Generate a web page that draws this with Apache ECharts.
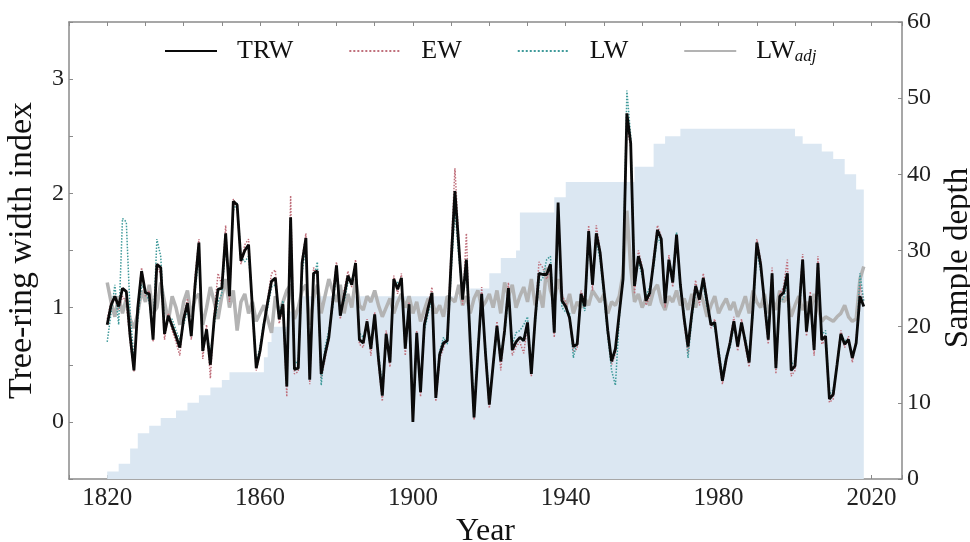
<!DOCTYPE html>
<html>
<head>
<meta charset="utf-8">
<script src="https://cdn.jsdelivr.net/npm/echarts@6/dist/echarts.min.js"></script>
<style>
  html, body { margin: 0; padding: 0; background: #fff; }
  #chart { width: 970px; height: 542px; }
</style>
</head>
<body>
<div id="chart"></div>
<script>
// chronologies, one value per year starting at firstYear
const firstYear = 1820

const trw = [
  0.85, 1.02, 1.10, 1.01, 1.17, 1.14, 0.75, 0.45, 1.00, 1.32,
  1.13, 1.12, 0.72, 1.38, 1.35, 0.77, 0.93, 0.84, 0.75, 0.65,
  0.90, 1.04, 0.75, 1.20, 1.57, 0.62, 0.81, 0.50, 0.90, 1.16,
  1.17, 1.65, 1.10, 1.93, 1.90, 1.41, 1.50, 1.55, 1.00, 0.47,
  0.62, 0.85, 1.05, 1.23, 1.26, 0.90, 1.03, 0.31, 1.79, 0.46,
  0.47, 1.39, 1.61, 0.37, 1.30, 1.32, 0.42, 0.59, 0.74, 1.05,
  1.37, 0.93, 1.10, 1.28, 1.20, 1.39, 0.72, 0.69, 0.88, 0.64,
  0.94, 0.55, 0.23, 0.77, 0.52, 1.25, 1.16, 1.26, 0.64, 1.03,
  0.00, 0.78, 0.26, 0.85, 1.00, 1.13, 0.21, 0.59, 0.69, 0.71,
  1.40, 2.02, 1.55, 1.07, 1.42, 0.70, 0.04, 0.60, 1.12, 0.60,
  0.15, 0.50, 0.84, 0.53, 0.80, 1.17, 0.63, 0.70, 0.74, 0.71,
  0.87, 0.42, 0.90, 1.30, 1.29, 1.29, 1.38, 0.78, 1.92, 1.06,
  1.01, 0.91, 0.66, 0.68, 1.12, 1.01, 1.67, 1.20, 1.65, 1.48,
  1.15, 0.80, 0.53, 0.64, 0.95, 1.25, 2.70, 2.44, 1.19, 1.45,
  1.33, 1.06, 1.13, 1.40, 1.68, 1.60, 1.04, 1.42, 1.22, 1.64,
  1.20, 0.90, 0.66, 0.95, 1.19, 1.07, 1.26, 1.05, 0.85, 0.87,
  0.60, 0.36, 0.55, 0.69, 0.88, 0.66, 0.87, 0.70, 0.52, 1.00,
  1.57, 1.38, 1.05, 0.72, 1.30, 0.47, 1.10, 1.13, 1.30, 0.45,
  0.49, 0.95, 1.42, 0.79, 1.10, 0.63, 1.39, 0.72, 0.75, 0.20,
  0.24, 0.50, 0.77, 0.68, 0.72, 0.56, 0.69, 1.10, 1.01
]

const ew = [
  0.90, 1.05, 1.08, 0.98, 1.10, 1.05, 0.70, 0.44, 1.02, 1.35,
  1.10, 1.15, 0.70, 1.35, 1.30, 0.72, 0.95, 0.80, 0.70, 0.58,
  0.92, 1.08, 0.72, 1.28, 1.60, 0.55, 0.85, 0.38, 0.95, 1.30,
  1.20, 1.72, 1.05, 1.95, 1.88, 1.38, 1.55, 1.60, 0.95, 0.45,
  0.60, 0.85, 1.08, 1.30, 1.33, 0.86, 1.00, 0.22, 1.98, 0.42,
  0.44, 1.42, 1.65, 0.33, 1.35, 1.28, 0.38, 0.55, 0.72, 1.10,
  1.40, 0.90, 1.15, 1.32, 1.18, 1.42, 0.68, 0.65, 0.90, 0.58,
  0.96, 0.50, 0.18, 0.80, 0.48, 1.28, 1.12, 1.30, 0.58, 1.05,
  0.02, 0.80, 0.22, 0.88, 1.02, 1.18, 0.18, 0.55, 0.65, 0.75,
  1.50, 2.22, 1.60, 1.02, 1.65, 0.65, 0.02, 0.58, 1.18, 0.55,
  0.12, 0.52, 0.88, 0.45, 0.82, 1.22, 0.58, 0.66, 0.70, 0.60,
  0.85, 0.40, 0.92, 1.40, 1.35, 1.25, 1.32, 0.74, 1.90, 1.10,
  1.05, 0.88, 0.62, 0.64, 1.15, 1.05, 1.72, 1.15, 1.72, 1.50,
  1.18, 0.78, 0.50, 0.60, 0.98, 1.22, 2.60, 2.40, 1.12, 1.50,
  1.36, 1.02, 1.10, 1.45, 1.72, 1.62, 1.00, 1.46, 1.18, 1.60,
  1.22, 0.86, 0.60, 0.98, 1.24, 1.02, 1.30, 1.08, 0.82, 0.90,
  0.55, 0.33, 0.52, 0.72, 0.92, 0.62, 0.90, 0.66, 0.48, 1.05,
  1.60, 1.42, 1.00, 0.68, 1.35, 0.42, 1.12, 1.18, 1.42, 0.40,
  0.45, 0.98, 1.47, 0.75, 1.14, 0.58, 1.45, 0.68, 0.72, 0.17,
  0.20, 0.52, 0.80, 0.65, 0.75, 0.52, 0.72, 1.20, 1.05
]

const lw = [
  0.70, 0.95, 1.20, 0.85, 1.78, 1.75, 0.95, 0.55, 0.90, 1.20,
  1.15, 1.05, 0.78, 1.60, 1.45, 0.85, 0.88, 0.90, 0.80, 0.72,
  0.85, 0.98, 0.80, 1.15, 1.45, 0.70, 0.78, 0.60, 0.85, 1.05,
  1.12, 1.55, 1.18, 1.85, 1.92, 1.45, 1.40, 1.45, 1.05, 0.50,
  0.66, 0.88, 1.00, 1.18, 1.20, 0.95, 1.06, 0.40, 1.60, 0.52,
  0.52, 1.30, 1.55, 0.42, 1.25, 1.40, 0.32, 0.65, 0.80, 1.00,
  1.30, 0.98, 1.05, 1.22, 1.25, 1.32, 0.78, 0.74, 0.85, 0.70,
  0.90, 0.60, 0.30, 0.72, 0.58, 1.20, 1.22, 1.20, 0.70, 0.98,
  0.05, 0.72, 0.32, 0.80, 0.95, 1.08, 0.28, 0.62, 0.74, 0.68,
  1.30, 1.85, 1.45, 1.12, 1.30, 0.75, 0.10, 0.66, 1.05, 0.65,
  0.20, 0.48, 0.80, 0.60, 0.76, 1.10, 0.68, 0.78, 0.80, 0.85,
  0.92, 0.45, 0.86, 1.22, 1.26, 1.42, 1.45, 0.82, 1.85, 1.00,
  0.96, 0.95, 0.56, 0.72, 1.08, 0.97, 1.60, 1.25, 1.58, 1.42,
  1.10, 0.75, 0.45, 0.32, 0.90, 1.30, 2.90, 2.50, 1.25, 1.40,
  1.28, 1.10, 1.18, 1.35, 1.62, 1.55, 1.08, 1.38, 1.28, 1.66,
  1.15, 0.95, 0.56, 0.90, 1.14, 1.12, 1.20, 1.00, 0.88, 0.82,
  0.65, 0.40, 0.58, 0.65, 0.84, 0.70, 0.82, 0.74, 0.55, 0.95,
  1.50, 1.32, 1.10, 0.76, 1.25, 0.52, 1.05, 1.08, 1.22, 0.50,
  0.54, 0.90, 1.35, 0.84, 1.06, 0.68, 1.30, 0.76, 0.80, 0.24,
  0.28, 0.48, 0.74, 0.72, 0.70, 0.60, 0.66, 1.30, 1.05
]

const lwAdj = [
  1.22, 1.05, 0.92, 1.10, 0.95, 1.08, 0.90, 0.82, 0.95, 1.15,
  1.05, 1.20, 0.95, 1.00, 1.22, 1.05, 0.88, 1.10, 1.00, 0.85,
  1.05, 1.15, 0.92, 1.08, 1.12, 0.85, 1.00, 1.18, 1.05, 0.90,
  1.10, 1.25, 1.00, 1.15, 0.80, 1.05, 1.12, 0.95, 1.05, 0.88,
  0.95, 1.02, 0.90, 0.78, 1.10, 0.95, 1.05, 1.15, 1.20, 0.90,
  1.00, 1.15, 1.20, 0.85, 1.08, 1.20, 0.95, 1.10, 1.25, 1.15,
  1.05, 1.20, 0.95, 1.12, 1.00, 1.25, 1.02, 0.98, 1.10, 1.05,
  1.15, 1.02, 0.92, 1.00, 1.08, 0.95, 1.05, 1.12, 1.00, 1.10,
  0.95, 1.05, 0.88, 0.98, 1.08, 1.05, 0.95, 1.02, 0.92, 1.10,
  1.08, 1.05, 1.20, 1.02, 1.10, 0.95, 1.08, 1.15, 1.00, 1.05,
  1.12, 1.00, 1.15, 0.95, 1.22, 1.10, 1.20, 1.00, 1.10, 1.18,
  1.05, 1.25, 1.02, 1.15, 1.00, 1.35, 1.15, 1.05, 1.25, 1.10,
  1.00, 1.12, 0.95, 1.05, 1.00, 1.08, 1.02, 1.15, 1.10, 1.05,
  1.12, 0.95, 1.05, 1.02, 1.10, 1.30, 1.85, 1.35, 1.05, 1.12,
  1.00, 1.08, 1.02, 1.15, 1.20, 1.05, 0.98, 1.10, 1.05, 1.15,
  1.02, 1.08, 0.98, 1.12, 1.00, 1.15, 1.05, 0.92, 1.02, 1.10,
  0.95, 1.02, 1.08, 0.98, 1.05, 0.92, 1.00, 1.10, 0.95, 1.15,
  1.05, 1.00, 1.12, 0.95, 1.08, 0.98, 1.15, 1.05, 1.10, 0.92,
  1.02, 1.10, 0.98, 1.05, 0.95, 1.12, 1.00, 0.88, 0.92, 0.90,
  0.88, 0.92, 0.95, 1.02, 0.92, 0.88, 0.90, 1.25, 1.36
]

// number of trees per year
const sampleDepth = [
  1, 1, 1, 2, 2, 2, 4, 4, 6, 6,
  6, 7, 7, 7, 8, 8, 8, 8, 9, 9,
  9, 10, 10, 10, 11, 11, 11, 12, 12, 12,
  13, 13, 14, 14, 14, 14, 14, 14, 14, 14,
  14, 16, 18, 20, 20, 20, 20, 22, 22, 22,
  22, 24, 24, 24, 24, 24, 24, 24, 24, 24,
  24, 24, 24, 24, 24, 24, 24, 24, 24, 24,
  24, 24, 24, 24, 24, 24, 24, 24, 24, 24,
  24, 24, 24, 24, 24, 24, 24, 24, 24, 24,
  24, 24, 24, 24, 24, 25, 25, 25, 25, 25,
  27, 27, 27, 29, 29, 29, 29, 30, 35, 35,
  35, 35, 35, 35, 35, 35, 35, 37, 37, 37,
  39, 39, 39, 39, 39, 39, 39, 39, 39, 39,
  39, 39, 39, 39, 39, 39, 39, 39, 41, 41,
  41, 41, 41, 44, 44, 44, 45, 45, 45, 45,
  46, 46, 46, 46, 46, 46, 46, 46, 46, 46,
  46, 46, 46, 46, 46, 46, 46, 46, 46, 46,
  46, 46, 46, 46, 46, 46, 46, 46, 46, 46,
  45, 45, 44, 44, 44, 44, 44, 43, 43, 43,
  42, 42, 42, 40, 40, 40, 38, 38, 38
]

const xLabelYears = [1820, 1860, 1900, 1940, 1980, 2020]
const leftLabels = [0, 1, 2, 3]

const pairs = arr => arr.map((v, i) => [firstYear + i, v])

const serif = "'Liberation Serif', 'Times New Roman', serif"
const spine = '#8a8a8a'

const chart = echarts.init(document.getElementById('chart'))

const xBase = {
  type: 'value',
  min: 1810,
  max: 2028,
  interval: 10,
  splitLine: { show: false },
  axisLine: { onZero: false, lineStyle: { color: spine, width: 1.5 } },
  axisTick: { inside: true, length: 4, lineStyle: { color: spine } }
}

chart.setOption({
  backgroundColor: '#fff',
  animation: false,
  grid: { left: 69, right: 68, top: 22, bottom: 63, containLabel: false, outerBoundsMode: 'none' },
  legend: {
    top: 33,
    left: 159,
    itemWidth: 52,
    itemHeight: 14,
    itemGap: 55,
    itemStyle: { opacity: 0 },
    textStyle: {
      fontFamily: serif,
      fontSize: 26,
      color: '#111',
      padding: [0, 0, 0, 15],
      rich: {
        sub: { fontFamily: serif, fontSize: 17, fontStyle: 'italic', color: '#111', padding: [11, 0, 0, 0] }
      }
    },
    formatter: name => name === 'LWadj' ? 'LW{sub|adj}' : name,
    data: ['TRW', 'EW', 'LW', 'LWadj']
  },
  xAxis: [
    Object.assign({}, xBase, {
      position: 'bottom',
      name: 'Year',
      nameLocation: 'middle',
      nameGap: 26,
      nameTextStyle: { fontFamily: serif, fontSize: 32, color: '#111' },
      axisLabel: {
        fontFamily: serif,
        fontSize: 25,
        color: '#222',
        margin: 7,
        formatter: v => xLabelYears.includes(v) ? String(v) : ''
      }
    }),
    Object.assign({}, xBase, {
      position: 'top',
      axisLabel: { show: false }
    })
  ],
  yAxis: [
    {
      type: 'value',
      min: -0.5,
      max: 3.5,
      interval: 0.5,
      position: 'left',
      name: 'Tree-ring width index',
      nameLocation: 'middle',
      nameGap: 30,
      nameTextStyle: { fontFamily: serif, fontSize: 34, color: '#111' },
      splitLine: { show: false },
      axisLine: { show: true, onZero: false, lineStyle: { color: spine, width: 1.5 } },
      axisTick: { show: true, inside: true, length: 4, lineStyle: { color: spine } },
      axisLabel: {
        fontFamily: serif,
        fontSize: 24,
        color: '#222',
        margin: 5,
        formatter: v => leftLabels.includes(v) ? String(v) : ''
      }
    },
    {
      type: 'value',
      min: 0,
      max: 60,
      interval: 10,
      position: 'right',
      name: 'Sample depth',
      nameLocation: 'middle',
      nameGap: 29,
      nameRotate: 90,
      nameTextStyle: { fontFamily: serif, fontSize: 33, color: '#111', padding: [0, 15, 0, 0] },
      splitLine: { show: false },
      axisLine: { show: true, onZero: false, lineStyle: { color: spine, width: 1.5 } },
      axisTick: { show: true, inside: true, length: 4, lineStyle: { color: spine } },
      axisLabel: { fontFamily: serif, fontSize: 24, color: '#222', margin: 5 }
    }
  ],
  series: [
    {
      name: 'Sample depth',
      type: 'line',
      yAxisIndex: 1,
      step: 'end',
      symbol: 'none',
      lineStyle: { width: 0 },
      areaStyle: { color: '#dbe7f2', opacity: 1, origin: 'start' },
      z: 1,
      data: pairs(sampleDepth)
    },
    {
      name: 'LWadj',
      type: 'line',
      symbol: 'none',
      lineStyle: { color: '#b3b3b3', width: 3.5 },
      itemStyle: { color: '#b3b3b3' },
      z: 2,
      data: pairs(lwAdj)
    },
    {
      name: 'EW',
      type: 'line',
      symbol: 'none',
      lineStyle: { color: '#c0707c', width: 1.5, type: 'dotted' },
      itemStyle: { color: '#c0707c' },
      z: 3,
      data: pairs(ew)
    },
    {
      name: 'LW',
      type: 'line',
      symbol: 'none',
      lineStyle: { color: '#3f9a9a', width: 1.5, type: 'dotted' },
      itemStyle: { color: '#3f9a9a' },
      z: 4,
      data: pairs(lw)
    },
    {
      name: 'TRW',
      type: 'line',
      symbol: 'none',
      lineStyle: { color: '#0a0a0a', width: 2.8 },
      itemStyle: { color: '#0a0a0a' },
      z: 5,
      data: pairs(trw)
    }
  ]
})

window.addEventListener('resize', () => chart.resize())
</script>
</body>
</html>
